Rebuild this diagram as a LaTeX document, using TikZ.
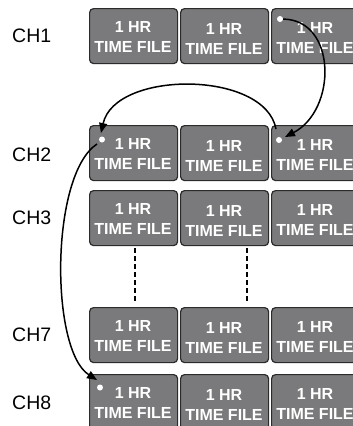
\documentclass[tikz,border=0pt]{standalone}
\usepackage{fontspec}
\setmainfont{Liberation Sans}
\usetikzlibrary{arrows.meta}
\definecolor{boxfill}{HTML}{7A7A7C}
\definecolor{boxline}{HTML}{2B2B2B}
\begin{document}
\begin{tikzpicture}[x=1pt,y=-1pt,
 filebox/.style={draw=boxline, fill=boxfill, line width=1.2pt, rounded corners=4pt, minimum width=88pt, minimum height=55pt, inner sep=0pt, anchor=north west},
 filetext/.style={font=\fontsize{16}{20}\selectfont\bfseries, text=white, align=center, inner sep=0pt},
 chlabel/.style={font=\fontsize{19.5}{22}\selectfont, anchor=west, inner sep=0pt, text=black},
 dotmark/.style={circle, fill=white, inner sep=0pt, minimum size=6pt},
 link/.style={line width=1.5pt, -{Triangle[length=10pt,width=8pt]}},
 sepline/.style={line width=2.6pt, dash pattern=on 5pt off 3pt}
]
\useasboundingbox (0,0) rectangle (353,426);
\begin{scope}
\clip (0,0) rectangle (353,426);
\foreach \r/\t in {1/8, 2/125, 3/190, 7/307, 8/374} {
  \foreach \c/\l/\o in {1/89/29, 2/180/31, 3/271/29.5} {
    \node[filebox] (b\r\c) at (\l,\t) {};
    \node[filetext] (t\r\c) at (\l+44,\t+\o) {1 HR\\TIME FILE};
  }
}
\node[chlabel] (ch1) at (12,36) {CH1};
\node[chlabel] (ch2) at (12,155) {CH2};
\node[chlabel] (ch3) at (12,217.5) {CH3};
\node[chlabel] (ch7) at (12,334.5) {CH7};
\node[chlabel] (ch8) at (12,402.5) {CH8};
\node[dotmark] (d13) at (280,19) {};
\node[dotmark] (d21) at (102,139.5) {};
\node[dotmark] (d23) at (279,140) {};
\node[dotmark] (d81) at (100,387.5) {};
\coordinate (a1) at (285,137);
\coordinate (s2) at (276,129);
\coordinate (a2) at (101,133);
\coordinate (s3) at (97,144);
\coordinate (a3) at (97,380);
\draw[link] (d13) .. controls (337,20) and (337,110) .. (a1);
\draw[link] (s2) .. controls (265,70) and (115,70) .. (a2);
\draw[link] (s3) .. controls (50,175) and (50,350) .. (a3);
\coordinate (v1a) at (135,248);
\coordinate (v1b) at (135,302);
\coordinate (v2a) at (247,248);
\coordinate (v2b) at (247,302);
\draw[sepline] (v1a) -- (v1b);
\draw[sepline] (v2a) -- (v2b);
\end{scope}
\end{tikzpicture}
\end{document}
